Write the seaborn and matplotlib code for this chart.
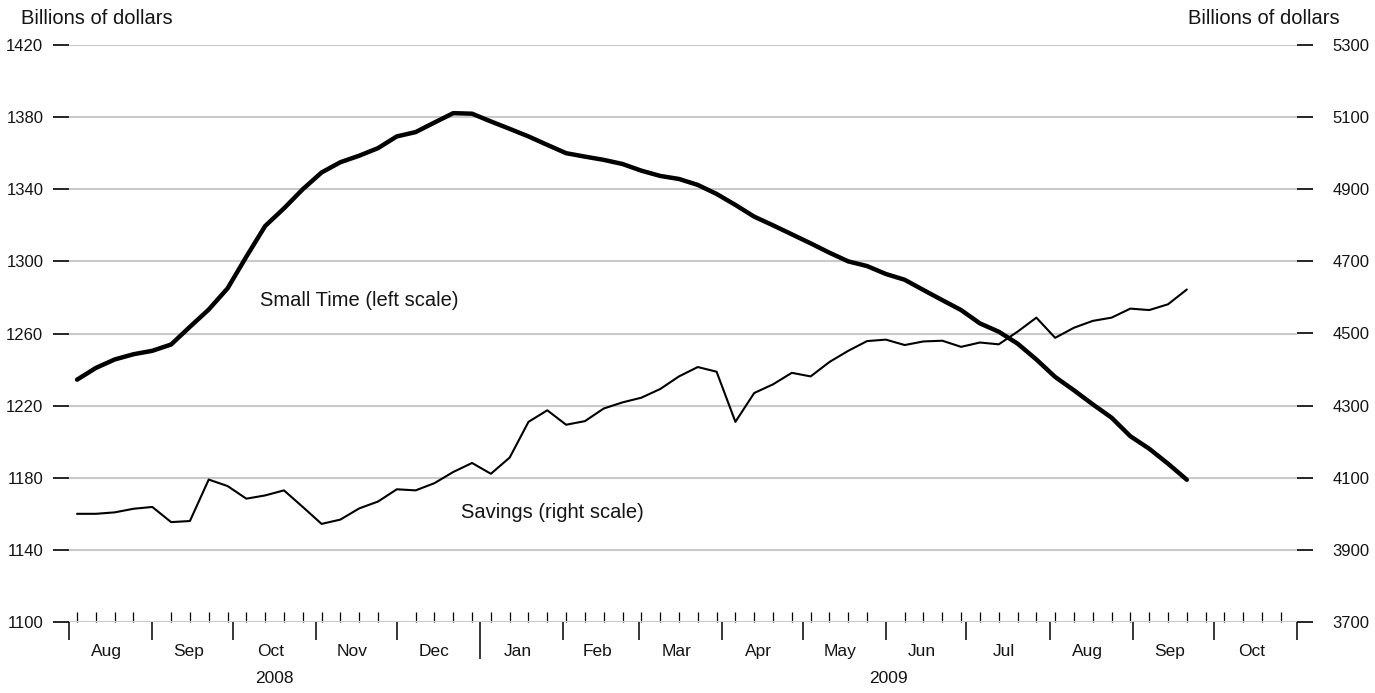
import matplotlib
matplotlib.use("Agg")
import matplotlib.pyplot as plt
import matplotlib.dates as mdates
import matplotlib.ticker as mticker
import matplotlib.transforms as mtransforms
import numpy as np
import pandas as pd
import seaborn as sns

# ---------------- data ----------------
first_week = "2008-08-04"          # weekly (Mondays)
small_time = [1234.4, 1240.9, 1245.6, 1248.5, 1250.4, 1253.9, 1263.7, 1273.3, 1285.0, 1302.6,
              1319.6, 1329.4, 1340.0, 1349.3, 1355.0, 1358.6, 1362.8, 1369.3, 1371.7, 1377.0,
              1382.2, 1381.9, 1377.6, 1373.5, 1369.3, 1364.6, 1360.0, 1358.1, 1356.3, 1354.0,
              1350.3, 1347.4, 1345.7, 1342.4, 1337.4, 1331.3, 1324.8, 1320.0, 1315.0, 1310.0,
              1304.8, 1300.0, 1297.4, 1293.0, 1289.8, 1284.1, 1278.5, 1273.0, 1265.6, 1261.0,
              1254.4, 1245.6, 1235.9, 1228.5, 1220.7, 1213.3, 1203.0, 1196.1, 1187.8, 1178.9]
savings = [4000, 4000, 4004, 4014, 4019, 3977, 3980, 4095, 4077, 4042,
           4051, 4065, 4019, 3972, 3984, 4015, 4034, 4068, 4065, 4085,
           4116, 4141, 4111, 4156, 4255, 4287, 4247, 4257, 4292, 4309,
           4322, 4346, 4381, 4407, 4394, 4255, 4335, 4359, 4391, 4381,
           4421, 4452, 4479, 4483, 4468, 4478, 4480, 4463, 4475, 4470,
           4505, 4544, 4488, 4516, 4535, 4544, 4569, 4565, 4581, 4622]
month_labels = ["Aug", "Sep", "Oct", "Nov", "Dec", "Jan", "Feb", "Mar", "Apr",
                "May", "Jun", "Jul", "Aug", "Sep", "Oct"]
year_labels = ["2008", "2009"]
left_ticks = [1100, 1140, 1180, 1220, 1260, 1300, 1340, 1380, 1420]
right_ticks = [3700, 3900, 4100, 4300, 4500, 4700, 4900, 5100, 5300]
axis_title = "Billions of dollars"
label_small = "Small Time (left scale)"
label_savings = "Savings (right scale)"

# ---------------- style ----------------
sns.set_theme(style="white")
plt.rcParams["font.family"] = ["Liberation Sans", "DejaVu Sans"]
TXT = "#141414"
GRID = "#cacaca"

dates = pd.date_range(first_week, periods=len(small_time), freq="7D")
df = pd.DataFrame({"date": dates, "small": small_time, "savings": savings})

W, H = 1375, 693
fig = plt.figure(figsize=(W / 100, H / 100), dpi=100)
x0, x1, yt, yb = 69, 1297, 45, 622
ax = fig.add_axes([x0 / W, 1 - yb / H, (x1 - x0) / W, (yb - yt) / H])
ax2 = ax.twinx()

sns.lineplot(data=df, x="date", y="small", ax=ax, color="black", lw=3.2, legend=False)
sns.lineplot(data=df, x="date", y="savings", ax=ax2, color="black", lw=1.5, legend=False)

month_starts = pd.date_range("2008-08-01", "2009-11-01", freq="MS")
ax.set_xlim(month_starts[0], month_starts[-1])
ax.set_ylim(left_ticks[0], left_ticks[-1])
ax2.set_ylim(right_ticks[0], right_ticks[-1])

ax.set_yticks(left_ticks)
ax2.set_yticks(right_ticks)
ax.set_yticklabels([str(v) for v in left_ticks])
ax2.set_yticklabels([str(v) for v in right_ticks])

# x ticks: months (major, out), Mondays (minor, in)
ms_num = mdates.date2num(month_starts)
ax.xaxis.set_major_locator(mticker.FixedLocator(ms_num))
ax.xaxis.set_major_formatter(mticker.NullFormatter())
ax.xaxis.set_minor_locator(mdates.WeekdayLocator(byweekday=mdates.MO))
ax.xaxis.set_minor_formatter(mticker.NullFormatter())

ax.yaxis.grid(True, color=GRID, lw=1.5)
ax.xaxis.grid(False)
ax2.grid(False)

for a in (ax, ax2):
    for s in a.spines.values():
        s.set_visible(False)
    a.set_xlabel("")
    a.set_ylabel("")

ax.tick_params(axis="x", which="major", direction="out", length=13, width=1.1,
               color="black", bottom=True, top=False)
ax.tick_params(axis="x", which="minor", direction="in", length=7.5, width=0.9,
               color="black", bottom=True, top=False)
ax.tick_params(axis="y", which="major", direction="out", length=11.5, width=1.2,
               color="black", pad=7, labelsize=12, labelcolor=TXT, left=True, right=False)
ax2.tick_params(axis="y", which="major", direction="out", length=11.5, width=1.2,
                color="black", pad=14, labelsize=12, labelcolor=TXT, right=True, left=False)
ax2.tick_params(axis="x", bottom=False, top=False, labelbottom=False)

# longer tick at the year boundary
year_idx = list(month_starts).index(pd.Timestamp("2009-01-01"))
mticks = ax.xaxis.get_major_ticks(len(month_starts))
mticks[year_idx].tick1line.set_markersize(26.5)

# month and year labels
trans = mtransforms.blended_transform_factory(ax.transData, ax.transAxes)
shift = mtransforms.ScaledTranslation(-4 / 100, 0, fig.dpi_scale_trans)
for i, lab in enumerate(month_labels):
    xm = (ms_num[i] + ms_num[i + 1]) / 2
    ax.text(xm, -0.0505, lab, transform=trans + shift, ha="center", va="center",
            fontsize=12.5, color=TXT)
year_bounds = [(month_starts[0], pd.Timestamp("2009-01-01")),
               (pd.Timestamp("2009-01-01"), month_starts[-1])]
for lab, (a, b) in zip(year_labels, year_bounds):
    xm = (mdates.date2num(a) + mdates.date2num(b)) / 2
    ax.text(xm, -0.0985, lab, transform=trans, ha="center", va="center",
            fontsize=12.5, color=TXT)

# series labels
ax.text(0.1555, 0.558, label_small, transform=ax.transAxes, ha="left", va="center",
        fontsize=14.5, color=TXT)
ax.text(0.3195, 0.189, label_savings, transform=ax.transAxes, ha="left", va="center",
        fontsize=14.5, color=TXT)

# axis titles
fig.text(21 / W, 1 - 18 / H, axis_title, ha="left", va="center", fontsize=14.5, color=TXT)
fig.text(1188 / W, 1 - 18 / H, axis_title, ha="left", va="center", fontsize=14.5, color=TXT)

fig.savefig("out.png", dpi=100)
